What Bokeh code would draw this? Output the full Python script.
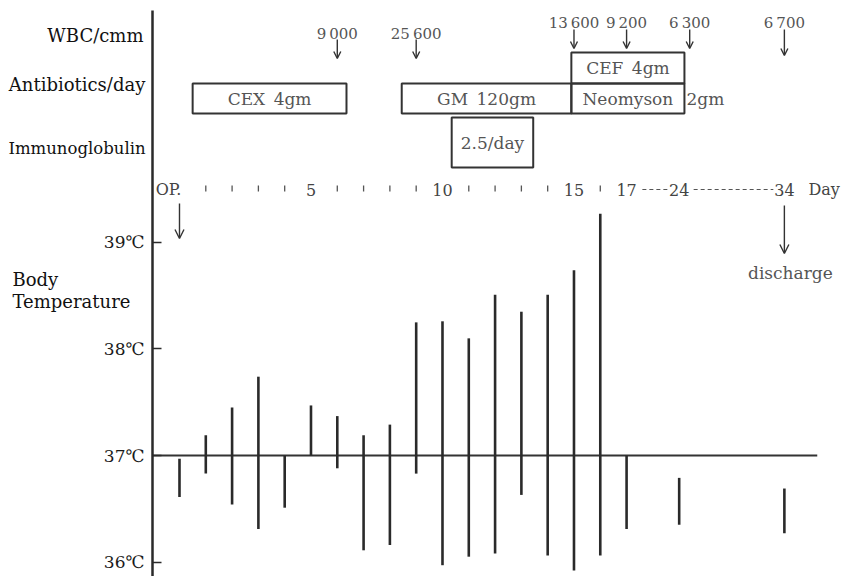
import numpy as np
from bokeh.plotting import figure
from bokeh.models import Range1d, FixedTicker, Arrow, OpenHead, ColumnDataSource
from bokeh.core.properties import value
from bokeh.embed import file_html
from bokeh.resources import INLINE

# ---------------- data ----------------
days = [0, 1, 2, 3, 4, 5, 6, 7, 8, 9, 10, 11, 12, 13, 14, 15, 16, 17, 24, 34]
temp_high = [36.97, 37.19, 37.45, 37.74, 37.00, 37.47, 37.37, 37.19, 37.29, 38.25,
             38.26, 38.10, 38.51, 38.35, 38.51, 38.74, 39.27, 37.00, 36.79, 36.69]
temp_low = [36.61, 36.83, 36.54, 36.31, 36.51, 37.00, 36.88, 36.11, 36.16, 36.83,
            35.97, 36.05, 36.08, 36.63, 36.06, 35.92, 36.06, 36.31, 36.35, 36.27]

wbc_days = [6, 9, 15, 17, 25, 34]
wbc_labels = ["9\u2009000", "25\u2009600", "13\u2009600", "9\u2009200", "6\u2009300", "6\u2009700"]

therapy_names = ["CEX\u20024gm", "GM\u2002120gm", "Neomyson", "CEF\u20024gm", "2.5/day"]
therapy_start = [0.5, 8.45, 14.9, 14.9, 10.35]
therapy_end = [6.35, 14.9, 24.5, 24.5, 13.45]
neomyson_dose = "2gm"

row_labels = ["WBC/cmm", "Antibiotics/day", "Immunoglobulin"]
temp_label = ["Body", "Temperature"]

temp_ticks = [36, 37, 38, 39]
temp_tick_labels = ["36\u2103", "37\u2103", "38\u2103", "39\u2103"]

day_label_days = [0, 5, 10, 15, 17, 24, 34]
day_label_text = ["OP.", "5", "10", "15", "17", "24", "34"]
day_mark_days = [1, 2, 3, 4, 6, 7, 8, 9, 11, 12, 13, 14, 16]
op_day = 0
discharge_day = 34

# ------------- broken day scale (axis breaks after day 17) -------------
break_days = [0, 17, 24, 34]
break_pos = [0, 17, 19, 23]


def pos(d):
    return np.interp(np.asarray(d, dtype=float), break_days, break_pos)


# ------------- layout (lane coordinates = vertical pixel lanes) -------------
X_LEFT, X_RIGHT, AXIS_AT = -6.806, 25.21, -1.027
Y_LOW, Y_HIGH = 35.864, 41.272
LANE_WBC_TEXT = [33, 33, 22, 22, 22, 22]
LANE_WBC_ARROW = [(39, 58), (39, 58), (29, 48), (29, 48), (29, 48), (29, 55)]
LANE_BOX = [(83, 113), (83, 113), (83, 113), (52, 83), (117, 167)]
LANE_DAYROW = 189
FONT = "DejaVu Serif"

p = figure(width=842, height=576, output_backend="svg", toolbar_location=None,
           x_range=Range1d(X_LEFT, X_RIGHT), y_range=Range1d(Y_LOW, Y_HIGH),
           x_axis_location=None, min_border_left=0, min_border_right=0,
           min_border_top=0, min_border_bottom=0)
p.extra_y_ranges = {"lane": Range1d(start=576, end=0)}
p.grid.visible = False
p.outline_line_color = None
p.background_fill_color = "white"
p.border_fill_color = "white"

ax = p.yaxis[0]
ax.fixed_location = AXIS_AT
ax.bounds = (Y_LOW, 41.18)
ax.ticker = FixedTicker(ticks=temp_ticks)
ax.major_label_overrides = {t: l for t, l in zip(temp_ticks, temp_tick_labels)}
ax.major_tick_in = 9
ax.major_tick_out = 0
ax.minor_tick_line_color = None
ax.axis_line_width = 2.5
ax.axis_line_color = "#2a2a2a"
ax.major_tick_line_width = 1.5
ax.major_tick_line_color = "#2a2a2a"
ax.major_label_text_font = FONT
ax.major_label_text_font_size = "17px"
ax.major_label_text_color = "#1a1a1a"
ax.major_label_standoff = 8

# 37 C baseline
p.segment(x0=[AXIS_AT], x1=[pos(days[-1]) + 1.25], y0=[37], y1=[37],
          line_color="#333333", line_width=2)

# temperature range bars
src = ColumnDataSource(dict(x=pos(days), lo=temp_low, hi=temp_high))
p.segment(x0="x", x1="x", y0="lo", y1="hi", source=src, line_color="#2a2a2a", line_width=2.6)

# therapy boxes
bx = ColumnDataSource(dict(
    l=pos(therapy_start), r=pos(therapy_end),
    t=[b[0] for b in LANE_BOX], b=[b[1] for b in LANE_BOX],
    cx=(pos(therapy_start) + pos(therapy_end)) / 2,
    cy=[(b[0] + b[1]) / 2 for b in LANE_BOX], name=therapy_names))
p.quad(left="l", right="r", top="t", bottom="b", source=bx, y_range_name="lane",
       fill_color=None, line_color="#333333", line_width=2)
p.text(x="cx", y="cy", text="name", source=bx, y_range_name="lane",
       text_font=value(FONT), text_font_size="17px", text_color="#555555",
       text_align="center", text_baseline="middle")
p.text(x=[pos(therapy_end[2])], y=[(LANE_BOX[2][0] + LANE_BOX[2][1]) / 2], text=[neomyson_dose],
       y_range_name="lane", x_offset=2, text_font=value(FONT), text_font_size="17px",
       text_color="#555555", text_align="left", text_baseline="middle")

# WBC values with arrows
p.text(x=pos(wbc_days), y=LANE_WBC_TEXT, text=wbc_labels, y_range_name="lane",
       text_font=value(FONT), text_font_size="15px", text_color="#555555",
       text_align="center", text_baseline="middle")
ar = ColumnDataSource(dict(x=pos(wbc_days), y0=[a[0] for a in LANE_WBC_ARROW],
                           y1=[a[1] for a in LANE_WBC_ARROW]))
p.add_layout(Arrow(end=OpenHead(size=7, line_width=1.4, line_color="#333333"),
                   x_start="x", y_start="y0", x_end="x", y_end="y1", source=ar,
                   y_range_name="lane", line_width=1.4, line_color="#333333"))

# day row
p.text(x=pos(day_label_days), y=[LANE_DAYROW] * len(day_label_days), text=day_label_text,
       y_range_name="lane", x_offset=[-11] + [0] * (len(day_label_days) - 1),
       text_font=value(FONT), text_font_size="16px", text_color="#444444",
       text_align="center", text_baseline="middle")
p.segment(x0=pos(day_mark_days), x1=pos(day_mark_days), y0=[LANE_DAYROW - 4] * len(day_mark_days),
          y1=[LANE_DAYROW + 2] * len(day_mark_days), y_range_name="lane",
          line_color="#555555", line_width=1.3)
p.segment(x0=[pos(17) + 0.6, pos(24) + 0.55], x1=[pos(24) - 0.45, pos(34) - 0.42],
          y0=[LANE_DAYROW, LANE_DAYROW], y1=[LANE_DAYROW, LANE_DAYROW], y_range_name="lane",
          line_color="#555555", line_width=1.2, line_dash="4 3")
p.text(x=[pos(34)], y=[LANE_DAYROW], text=["Day"], y_range_name="lane", x_offset=24,
       text_font=value(FONT), text_font_size="16px", text_color="#444444",
       text_align="left", text_baseline="middle")

# OP and discharge arrows
ev = ColumnDataSource(dict(x=pos([op_day, discharge_day]), y0=[203, 205], y1=[238, 253]))
p.add_layout(Arrow(end=OpenHead(size=9, line_width=1.4, line_color="#333333"),
                   x_start="x", y_start="y0", x_end="x", y_end="y1", source=ev,
                   y_range_name="lane", line_width=1.4, line_color="#333333"))
p.text(x=[pos(discharge_day)], y=[272], text=["discharge"], y_range_name="lane", x_offset=6,
       text_font=value(FONT), text_font_size="17px", text_color="#555555",
       text_align="center", text_baseline="middle")

# row labels (left margin)
p.text(x=[-1.369, -1.30, -1.29], y=[35, 84, 148], text=row_labels, y_range_name="lane",
       text_font=value(FONT), text_font_size=["18px", "18px", "16.5px"], text_color="#111111",
       text_align="right", text_baseline="middle")
p.text(x=[-6.35, -6.35], y=[279, 301], text=temp_label, y_range_name="lane",
       text_font=value(FONT), text_font_size="18px", text_color="#111111",
       text_align="left", text_baseline="middle")

open("out.html", "w").write(file_html(p, INLINE))
